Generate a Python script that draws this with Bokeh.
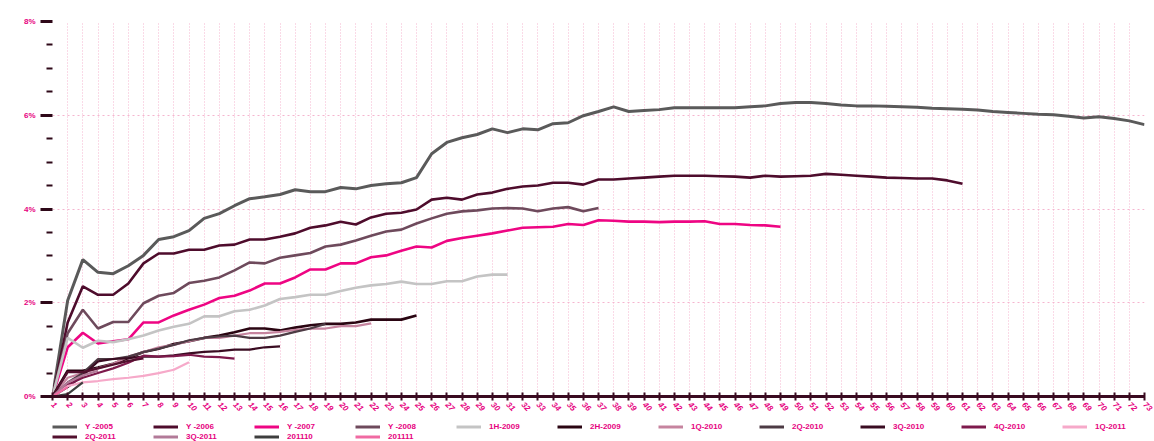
import math
from bokeh.plotting import figure
from bokeh.layouts import column
from bokeh.models import Range1d, FixedTicker, PrintfTickFormatter, Legend, LegendItem
from bokeh.embed import file_html
from bokeh.resources import INLINE

months = list(range(1, 74))

names = ["Y -2005", "Y -2006", "Y -2007", "Y -2008", "1H-2009", "2H-2009", "1Q-2010",
         "2Q-2010", "3Q-2010", "4Q-2010", "1Q-2011", "2Q-2011", "3Q-2011", "201110", "201111"]

y2005 = [0, 2.05, 2.92, 2.65, 2.62, 2.79, 3.01, 3.35, 3.41, 3.54,
         3.80, 3.90, 4.07, 4.22, 4.26, 4.31, 4.41, 4.37, 4.37, 4.46,
         4.43, 4.50, 4.54, 4.56, 4.67, 5.18, 5.42, 5.52, 5.59, 5.71,
         5.63, 5.71, 5.69, 5.82, 5.84, 5.99, 6.08, 6.18, 6.08, 6.10,
         6.12, 6.16, 6.16, 6.16, 6.16, 6.16, 6.18, 6.20, 6.25, 6.27,
         6.27, 6.25, 6.22, 6.20, 6.20, 6.19, 6.18, 6.17, 6.15, 6.14,
         6.13, 6.11, 6.08, 6.06, 6.04, 6.02, 6.01, 5.98, 5.94, 5.97,
         5.93, 5.88, 5.80]
y2006 = [0, 1.58, 2.35, 2.17, 2.17, 2.41, 2.84, 3.05, 3.05, 3.13,
         3.13, 3.22, 3.24, 3.35, 3.35, 3.41, 3.48, 3.60, 3.65, 3.73,
         3.67, 3.82, 3.90, 3.92, 3.99, 4.20, 4.24, 4.20, 4.31, 4.35,
         4.43, 4.48, 4.50, 4.56, 4.56, 4.52, 4.63, 4.63, 4.65, 4.67,
         4.69, 4.71, 4.71, 4.71, 4.70, 4.69, 4.67, 4.71, 4.69, 4.70,
         4.71, 4.75, 4.73, 4.71, 4.69, 4.67, 4.66, 4.65, 4.65, 4.61,
         4.54]
y2007 = [0, 1.05, 1.36, 1.13, 1.18, 1.22, 1.58, 1.58, 1.73, 1.85,
         1.96, 2.10, 2.15, 2.26, 2.41, 2.41, 2.54, 2.71, 2.71, 2.84,
         2.84, 2.97, 3.01, 3.11, 3.20, 3.18, 3.32, 3.38, 3.43, 3.48,
         3.54, 3.60, 3.61, 3.62, 3.68, 3.66, 3.76, 3.75, 3.73, 3.73,
         3.72, 3.73, 3.73, 3.74, 3.68, 3.68, 3.66, 3.65, 3.62]
y2008 = [0, 1.35, 1.85, 1.45, 1.59, 1.59, 1.99, 2.15, 2.21, 2.42,
         2.47, 2.54, 2.69, 2.86, 2.84, 2.96, 3.01, 3.06, 3.20, 3.24,
         3.33, 3.43, 3.52, 3.56, 3.69, 3.80, 3.90, 3.95, 3.97, 4.01,
         4.02, 4.01, 3.95, 4.01, 4.04, 3.95, 4.02]
h1_2009 = [0, 1.25, 1.04, 1.19, 1.16, 1.22, 1.30, 1.41, 1.49, 1.55,
           1.71, 1.71, 1.82, 1.85, 1.94, 2.08, 2.12, 2.17, 2.17, 2.25,
           2.32, 2.37, 2.40, 2.45, 2.40, 2.40, 2.46, 2.46, 2.56, 2.60, 2.60]
h2_2009 = [0, 0.55, 0.55, 0.62, 0.70, 0.82, 0.95, 1.02, 1.12, 1.18,
           1.25, 1.30, 1.37, 1.45, 1.45, 1.41, 1.47, 1.52, 1.55, 1.55,
           1.58, 1.64, 1.64, 1.64, 1.73]
q1_2010 = [0, 0.40, 0.50, 0.60, 0.70, 0.85, 0.95, 1.05, 1.10, 1.18,
           1.25, 1.25, 1.30, 1.35, 1.35, 1.38, 1.42, 1.45, 1.45, 1.50, 1.50, 1.56]
q2_2010 = [0, 0.30, 0.50, 0.80, 0.80, 0.85, 0.95, 1.02, 1.10, 1.20,
           1.25, 1.28, 1.30, 1.25, 1.25, 1.30, 1.38, 1.45, 1.55]
q3_2010 = [0, 0.20, 0.45, 0.75, 0.80, 0.82, 0.85, 0.85, 0.88, 0.92,
           0.95, 0.97, 1.00, 1.00, 1.05, 1.07]
q4_2010 = [0, 0.25, 0.40, 0.50, 0.60, 0.72, 0.87, 0.85, 0.86, 0.89, 0.85, 0.84, 0.81]
q1_2011 = [0, 0.22, 0.30, 0.33, 0.37, 0.40, 0.44, 0.50, 0.57, 0.73]
q2_2011 = [0, 0.52, 0.52, 0.60, 0.68, 0.76, 0.81]
q3_2011 = [0, 0.30, 0.45, 0.55]
m201110 = [0, 0.05, 0.30]
m201111 = [0, 0.20]

series = [y2005, y2006, y2007, y2008, h1_2009, h2_2009, q1_2010, q2_2010,
          q3_2010, q4_2010, q1_2011, q2_2011, q3_2011, m201110, m201111]
colors = ["#5a5a5a", "#4e0c2c", "#ee0583", "#6e4a5c", "#c4c4c4", "#2a0512", "#c6849f",
          "#4d3b44", "#3a0c22", "#7e1a4c", "#f6a9c9", "#52102e", "#b27a98", "#3e3e3e", "#f06aa2"]
widths = [3, 2.6, 2.6, 2.6, 2.6, 2.6, 2.2, 2.2, 2.2, 2.2, 2.2, 2.2, 2.2, 2.2, 2.2]

y_ticks = [0, 2, 4, 6, 8]
y_minor = [0.5, 1, 1.5, 2.5, 3, 3.5, 4.5, 5, 5.5, 6.5, 7, 7.5]

PINK = "#e6007e"
DARK = "#2e0818"

fig = figure(width=1154, height=422, x_range=Range1d(1, 73), y_range=Range1d(0, 8),
             output_backend="svg", toolbar_location=None,
             min_border_left=52, min_border_right=10, min_border_top=21, min_border_bottom=26)
fig.outline_line_color = None

for name, vals, c, w in zip(names, series, colors, widths):
    fig.line(months[:len(vals)], vals, line_color=c, line_width=w)

# y axis
yax = fig.yaxis[0]
yax.ticker = FixedTicker(ticks=y_ticks, minor_ticks=y_minor)
yax.formatter = PrintfTickFormatter(format="%d%%")
yax.axis_line_color = None
yax.major_tick_line_color = DARK
yax.major_tick_line_width = 3
yax.major_tick_out = 12
yax.major_tick_in = 0
yax.minor_tick_line_color = DARK
yax.minor_tick_line_width = 2
yax.minor_tick_out = 6
yax.minor_tick_in = 0
yax.major_label_text_color = PINK
yax.major_label_text_font = "Liberation Sans"
yax.major_label_text_font_style = "bold"
yax.major_label_text_font_size = "8px"
yax.major_label_standoff = 5

# x axis
xax = fig.xaxis[0]
xax.ticker = FixedTicker(ticks=months)
xax.axis_line_color = "#3a0a20"
xax.axis_line_width = 3
xax.major_tick_line_color = "#3a0a20"
xax.major_tick_line_width = 2
xax.major_tick_in = 4
xax.major_tick_out = 4
xax.minor_tick_line_color = None
xax.major_label_orientation = -math.pi / 4
xax.major_label_text_color = PINK
xax.major_label_text_font = "Liberation Sans"
xax.major_label_text_font_style = "bold italic"
xax.major_label_text_font_size = "8px"
xax.major_label_standoff = 3

fig.xgrid.grid_line_color = "#f5b5cf"
fig.xgrid.grid_line_dash = "1 2"
fig.xgrid.grid_line_width = 1
fig.ygrid.grid_line_color = "#f5b5cf"
fig.ygrid.grid_line_dash = "2 3"
fig.ygrid.grid_line_width = 1

# legend strip: a small figure whose (out-of-view) copies of the series feed the legend
leg = figure(width=1154, height=19, x_range=Range1d(1, 73), y_range=Range1d(-10, -9),
             output_backend="svg", toolbar_location=None,
             x_axis_type=None, y_axis_type=None,
             min_border_left=52, min_border_right=10, min_border_top=0, min_border_bottom=0)
leg.outline_line_color = None
leg.xgrid.visible = False
leg.ygrid.visible = False

items = []
for name, vals, c in zip(names, series, colors):
    r = leg.line(months[:len(vals)], vals, line_color=c, line_width=3)
    items.append(LegendItem(label=name, renderers=[r]))

legend = Legend(items=items, ncols=11, orientation="horizontal", location=(0, 0),
                glyph_width=25, glyph_height=9, label_height=9, label_width=67,
                label_standoff=8, spacing=1, padding=0, margin=0,
                label_text_font="Liberation Sans", label_text_font_size="8px",
                label_text_font_style="bold", label_text_color=PINK,
                border_line_color=None, background_fill_alpha=0)
leg.add_layout(legend, "center")

p = column(fig, leg, spacing=0)

open("out.html", "w").write(file_html(p, INLINE))
